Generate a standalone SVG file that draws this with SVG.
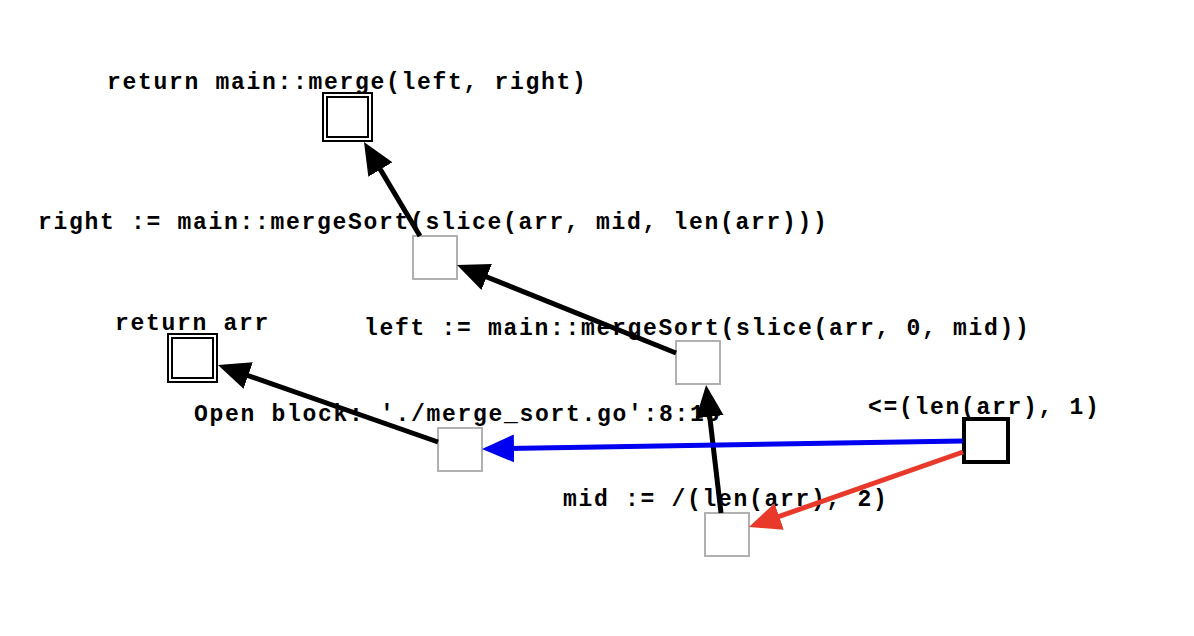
<svg xmlns="http://www.w3.org/2000/svg" width="1194" height="636" viewBox="0 0 1194 636">
<style>
text{font-family:"Liberation Mono","DejaVu Sans Mono",monospace;font-weight:bold;font-size:23px;letter-spacing:1.7px;fill:#000}
.g{fill:#fff;stroke:#b0b0b0;stroke-width:2}
.b{fill:#fff;stroke:#000;stroke-width:4}
.d{fill:#fff;stroke:#000;stroke-width:2}
.e{fill:none;stroke-width:5}
</style>
<defs>
<marker id="ak" markerUnits="userSpaceOnUse" markerWidth="32" markerHeight="28" viewBox="0 0 32 28" refX="22" refY="14" orient="auto"><path d="M0,0 L32,14 L0,28 z" fill="#000"/></marker>
<marker id="ab" markerUnits="userSpaceOnUse" markerWidth="32" markerHeight="28" viewBox="0 0 32 28" refX="22" refY="14" orient="auto"><path d="M0,0 L32,14 L0,28 z" fill="#0000f0"/></marker>
<marker id="ar" markerUnits="userSpaceOnUse" markerWidth="32" markerHeight="28" viewBox="0 0 32 28" refX="22" refY="14" orient="auto"><path d="M0,0 L32,14 L0,28 z" fill="#e8392a"/></marker>
</defs>
<rect width="1194" height="636" fill="#fff"/>
<g id="n_merge">
<text x="107" y="89">return main::merge(left, right)</text>
<rect class="d" x="323" y="93" width="49" height="48"/>
<rect class="d" x="327" y="97" width="41" height="40"/>
</g>
<g id="n_right">
<text x="38" y="229">right := main::mergeSort(slice(arr, mid, len(arr)))</text>
<rect class="g" x="413" y="236" width="44" height="43"/>
</g>
<g id="n_left">
<text x="364" y="335">left := main::mergeSort(slice(arr, 0, mid))</text>
<rect class="g" x="676" y="341" width="44" height="43"/>
</g>
<g id="n_retarr">
<text x="115" y="330">return arr</text>
<rect class="d" x="168" y="334" width="49" height="48"/>
<rect class="d" x="172" y="338" width="41" height="40"/>
</g>
<g id="n_open">
<text x="194" y="421">Open block: './merge_sort.go':8:18</text>
<rect class="g" x="438" y="428" width="44" height="43"/>
</g>
<g id="n_cond">
<text x="868" y="414">&lt;=(len(arr), 1)</text>
<rect class="b" x="964" y="419" width="44" height="43"/>
</g>
<g id="n_mid">
<text x="563" y="506">mid := /(len(arr), 2)</text>
<rect class="g" x="705" y="513" width="44" height="43"/>
</g>
<g id="connectors">
<line class="e" stroke="#000" x1="420" y1="236" x2="369.1" y2="150.6" marker-end="url(#ak)"/>
<line class="e" stroke="#000" x1="676" y1="353" x2="466.3" y2="268.7" marker-end="url(#ak)"/>
<line class="e" stroke="#000" x1="721" y1="513" x2="707.2" y2="394.9" marker-end="url(#ak)"/>
<line class="e" stroke="#000" x1="438" y1="442" x2="227.4" y2="368.3" marker-end="url(#ak)"/>
<line class="e" stroke="#0000f0" x1="963" y1="441" x2="492" y2="448.8" marker-end="url(#ab)"/>
<line class="e" stroke="#e8392a" x1="963" y1="452" x2="758.4" y2="523.7" marker-end="url(#ar)"/>
</g>
</svg>
